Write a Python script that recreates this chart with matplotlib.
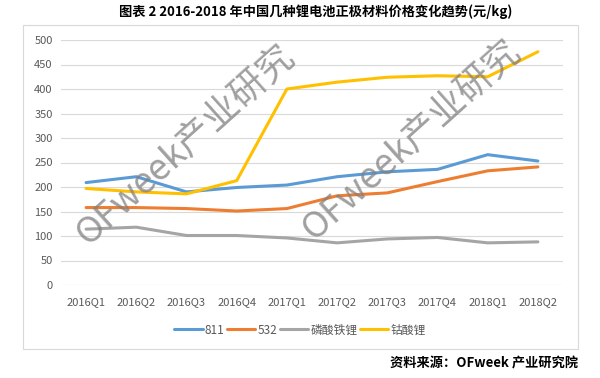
import matplotlib
matplotlib.use('Agg')
import matplotlib.pyplot as plt
from matplotlib.patches import Rectangle

plt.rcParams['font.family'] = ['Noto Sans CJK SC', 'DejaVu Sans']

quarters = ['2016Q1', '2016Q2', '2016Q3', '2016Q4', '2017Q1',
            '2017Q2', '2017Q3', '2017Q4', '2018Q1', '2018Q2']
ncm811 = [209, 221, 190, 199, 204, 221, 231, 236, 266, 253]
ncm532 = [158, 158, 156, 151, 156, 182, 188, 211, 233, 241]
lfp = [114, 118, 101, 101, 96, 86, 94, 97, 86, 88]
lco = [197, 190, 186, 213, 400, 414, 424, 427, 425, 476]
names = ['811', '532', '磷酸铁锂', '钴酸锂']
colors = ['#5B9BD5', '#ED7D31', '#A5A5A5', '#FFC000']

fig = plt.figure(figsize=(6, 3.78), dpi=100)
fig.patches.append(Rectangle((23 / 600, 1 - 349 / 378), 555 / 600, 324 / 378,
                             transform=fig.transFigure, fill=False,
                             edgecolor='#D9D9D9', linewidth=0.8))

ax = fig.add_axes([61 / 600, 1 - 285 / 378, 502 / 600, 245 / 378])
x = range(len(quarters))
for vals, name, c in zip([ncm811, ncm532, lfp, lco], names, colors):
    ax.plot(x, vals, color=c, linewidth=2.2, label=name, solid_capstyle='round')

ax.set_xlim(-0.5, len(quarters) - 0.5)
ax.set_ylim(0, 500)
ax.set_yticks(range(0, 501, 50))
ax.set_xticks(list(x))
ax.set_xticklabels(quarters)
ax.grid(axis='y', color='#D9D9D9', linewidth=0.8)
ax.set_axisbelow(True)
for s in ax.spines.values():
    s.set_visible(False)
ax.tick_params(length=0, labelsize=8, colors='#595959', pad=6)
ax.tick_params(axis='x', pad=9)

leg = fig.legend(loc='center', bbox_to_anchor=(0.5, 1 - 330 / 378), ncol=4,
                 frameon=False, fontsize=8.5, handlelength=2.4, columnspacing=0.2,
                 handletextpad=0.2)
for t in leg.get_texts():
    t.set_color('#595959')

# watermarks
for cx, cy in [(186, 145), (412, 140)]:
    fig.text(cx / 600, 1 - cy / 378, 'OFweek产业研究', rotation=42,
             fontsize=26, color='#808080', alpha=0.75,
             ha='center', va='center', rotation_mode='anchor')

fig.text(316 / 600, 1 - 12 / 378, '图表 2 2016-2018 年中国几种锂电池正极材料价格变化趋势(元/kg)',
         ha='center', va='center', fontsize=9.5, fontweight='bold')
fig.text(578 / 600, 1 - 363 / 378, '资料来源：OFweek 产业研究院',
         ha='right', va='center', fontsize=9.5, fontweight='bold')

fig.savefig('out.png', dpi=100)
